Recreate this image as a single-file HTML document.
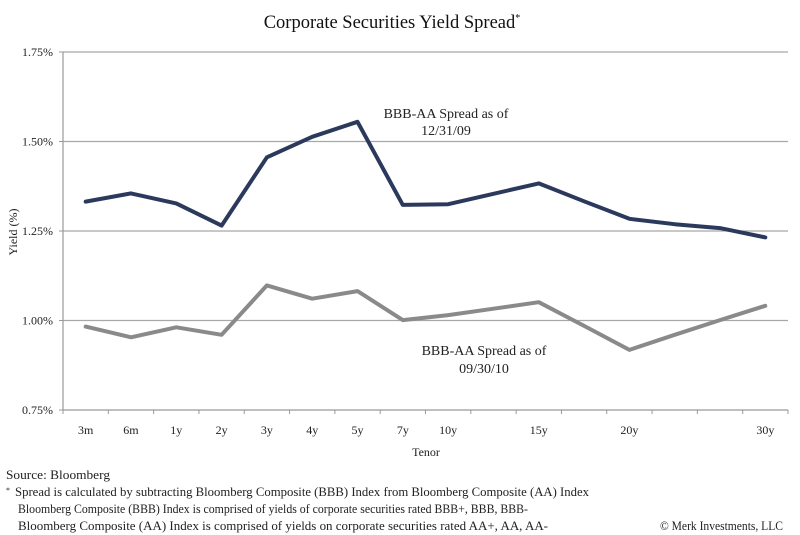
<!DOCTYPE html>
<html><head><meta charset="utf-8"><style>
html,body{margin:0;padding:0;background:#fff;}
svg{display:block;font-family:"Liberation Serif",serif;}
</style></head><body>
<svg id="chart" width="800" height="535" viewBox="0 0 800 535" xmlns="http://www.w3.org/2000/svg">
<text x="392" y="28" font-size="18.5" text-anchor="middle" fill="#111">Corporate Securities Yield Spread<tspan font-size="10" dy="-7">*</tspan></text>
<g id="grid"></g>
<g id="axes"></g>
<g id="series"></g>
<text transform="translate(17,232) rotate(-90)" font-size="12" text-anchor="middle" fill="#222">Yield (%)</text>
<text x="426" y="456" font-size="12" text-anchor="middle" fill="#222">Tenor</text>
<text x="446" y="118" font-size="14" text-anchor="middle" fill="#222">BBB-AA Spread as of</text>
<text x="446" y="135" font-size="14" text-anchor="middle" fill="#222">12/31/09</text>
<text x="484" y="355" font-size="14" text-anchor="middle" fill="#222">BBB-AA Spread as of</text>
<text x="484" y="373" font-size="14" text-anchor="middle" fill="#222">09/30/10</text>
<g font-size="12.5" fill="#222">
<text x="6" y="479" textLength="104" lengthAdjust="spacingAndGlyphs">Source: Bloomberg</text>
<text x="6" y="493" font-size="8">*</text>
<text x="15" y="496" textLength="574" lengthAdjust="spacingAndGlyphs">Spread is calculated by subtracting Bloomberg Composite (BBB) Index from Bloomberg Composite (AA) Index</text>
<text x="18" y="513" textLength="510" lengthAdjust="spacingAndGlyphs">Bloomberg Composite (BBB) Index is comprised of yields of corporate securities rated BBB+, BBB, BBB-</text>
<text x="18" y="530" textLength="530" lengthAdjust="spacingAndGlyphs">Bloomberg Composite (AA) Index is comprised of yields on corporate securities rated AA+, AA, AA-</text>
<text x="660" y="530" textLength="123" lengthAdjust="spacingAndGlyphs">© Merk Investments, LLC</text>
</g>
</svg>
<script>
const categories = ["3m","6m","1y","2y","3y","4y","5y","7y","10y","","15y","","20y","","","30y"];
const spreadDec2009 = [1.332,1.355,1.327,1.265,1.456,1.513,1.555,1.323,1.325,1.354,1.383,1.333,1.284,1.269,1.258,1.232];
const spreadSep2010 = [0.983,0.953,0.981,0.960,1.098,1.061,1.082,1.001,1.015,1.033,1.051,0.985,0.918,0.960,1.001,1.041];
const yTicks = [0.75,1.00,1.25,1.50,1.75];
const yTickLabels = ["0.75%","1.00%","1.25%","1.50%","1.75%"];

const NS = "http://www.w3.org/2000/svg";
const L = 63, R = 788, T = 52, B = 410, yMin = 0.75, yMax = 1.75;
const band = (R - L) / categories.length;
function xPos(i){ return L + band * (i + 0.5); }
function yPos(v){ return B - (v - yMin) / (yMax - yMin) * (B - T); }
function mk(tag, attrs, parent){
  const e = document.createElementNS(NS, tag);
  for (const k in attrs) e.setAttribute(k, attrs[k]);
  parent.appendChild(e);
  return e;
}
const grid = document.getElementById("grid");
const axes = document.getElementById("axes");
const series = document.getElementById("series");

yTicks.forEach((v, i) => {
  const y = yPos(v);
  if (i > 0) {
    const g = mk("line", {x1:L, x2:R, y1:y, y2:y, stroke:"#a8a8a8", "stroke-width":1.2}, grid);
    
    
  }
  const tk = mk("line", {x1:L-4, x2:L, y1:y, y2:y, stroke:"#999", "stroke-width":1}, axes);
  
  
  const t = mk("text", {x:L-10, y:y+4, "font-size":12, "text-anchor":"end", fill:"#222"}, axes);
  t.textContent = yTickLabels[i];
  
  
});
const yAxis = mk("line", {x1:L, x2:L, y1:T, y2:B, stroke:"#999", "stroke-width":1.2}, axes);


const xAxis = mk("line", {x1:L, x2:R, y1:B, y2:B, stroke:"#999", "stroke-width":1.2}, axes);


for (let i = 0; i <= categories.length; i++) {
  const x = L + band * i;
  const tk = mk("line", {x1:x, x2:x, y1:B, y2:B+4, stroke:"#999", "stroke-width":1}, axes);
  
  
}
categories.forEach((c, i) => {
  if (!c) return;
  const t = mk("text", {x:xPos(i), y:434, "font-size":12, "text-anchor":"middle", fill:"#222"}, axes);
  t.textContent = c;
  
  
});
function drawLine(vals, color, name){
  const d = vals.map((v, i) => (i ? "L" : "M") + xPos(i).toFixed(1) + "," + yPos(v).toFixed(1)).join(" ");
  const p = mk("path", {d:d, fill:"none", stroke:color, "stroke-width":4, "stroke-linejoin":"round", "stroke-linecap":"round"}, series);
  
  
}
drawLine(spreadSep2010, "#8a8a8a", "series-line-sep-2010");
drawLine(spreadDec2009, "#2b3a5c", "series-line-dec-2009");
</script>
</body></html>
